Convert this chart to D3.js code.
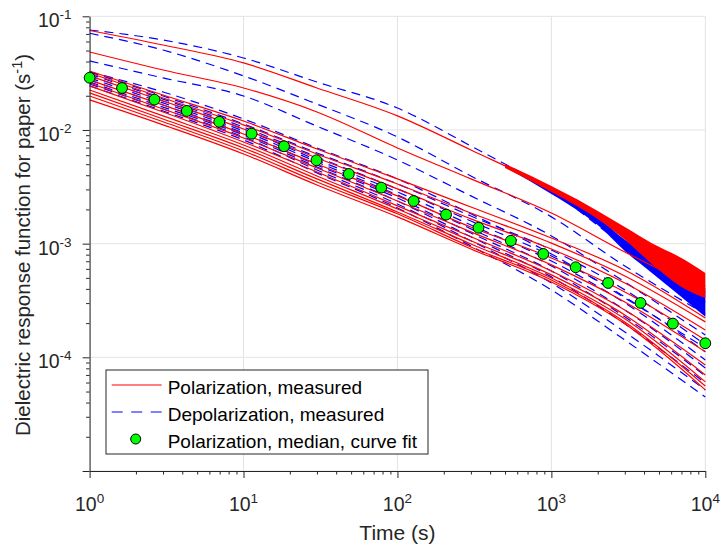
<!DOCTYPE html>
<html>
<head>
<meta charset="utf-8">
<script src="https://cdn.jsdelivr.net/npm/d3@7"></script>
<style>
  body { margin: 0; background: #fff; }
  svg { display: block; font-family: "Liberation Sans", Arial, Helvetica, sans-serif; }
</style>
</head>
<body>
<svg id="draw"></svg>
<script>
// sample times (s) shared by every measured curve
var times = [1, 3, 10, 30, 100, 300, 1000, 3000, 10000];

// polarization, measured (s^-1), one row per sample
var polarization = [
  [7.50e-2, 5.59e-2, 3.89e-2, 2.34e-2, 1.33e-2, 6.67e-3, 3.03e-3, 1.22e-3, 4.25e-4],
  [4.85e-2, 3.37e-2, 2.34e-2, 1.44e-2, 6.95e-3, 3.71e-3, 1.86e-3, 8.45e-4, 3.76e-4],
  [3.30e-2, 2.03e-2, 1.20e-2, 6.81e-3, 3.71e-3, 2.10e-3, 1.12e-3, 5.87e-4, 2.22e-4],
  [3.17e-2, 1.91e-2, 1.11e-2, 6.15e-3, 3.35e-3, 1.86e-3, 1.01e-3, 5.20e-4, 2.05e-4],
  [2.99e-2, 1.80e-2, 1.02e-2, 5.67e-3, 3.03e-3, 1.65e-3, 8.98e-4, 4.51e-4, 1.74e-4],
  [2.75e-2, 1.66e-2, 9.22e-3, 5.02e-3, 2.63e-3, 1.40e-3, 7.48e-4, 3.76e-4, 1.42e-4],
  [2.59e-2, 1.53e-2, 8.50e-3, 4.63e-3, 2.37e-3, 1.27e-3, 6.50e-4, 3.07e-4, 1.12e-4],
  [2.44e-2, 1.44e-2, 7.84e-3, 4.27e-3, 2.15e-3, 1.15e-3, 5.75e-4, 2.61e-4, 8.57e-5],
  [2.25e-2, 1.33e-2, 7.38e-3, 3.94e-3, 2.02e-3, 1.06e-3, 5.31e-4, 2.36e-4, 7.00e-5],
  [2.12e-2, 1.25e-2, 6.95e-3, 3.71e-3, 1.90e-3, 9.94e-4, 4.99e-4, 2.18e-4, 6.08e-5],
  [1.99e-2, 1.18e-2, 6.54e-3, 3.49e-3, 1.83e-3, 9.35e-4, 4.79e-4, 2.05e-4, 5.60e-5],
  [1.84e-2, 1.11e-2, 6.15e-3, 3.28e-3, 1.72e-3, 8.98e-4, 4.60e-4, 1.97e-4, 5.17e-5]
];

// depolarization, measured (s^-1)
var depolarization = [
  [7.58e-2, 6.19e-2, 4.30e-2, 2.64e-2, 1.56e-2, 7.23e-3, 2.91e-3, 9.55e-4, 3.07e-4],
  [7.09e-2, 5.05e-2, 2.99e-2, 1.69e-2, 8.68e-3, 3.94e-3, 1.72e-3, 6.37e-4, 2.41e-4],
  [4.05e-2, 2.87e-2, 1.99e-2, 1.08e-2, 5.45e-3, 2.63e-3, 1.17e-3, 4.60e-4, 1.57e-4],
  [3.24e-2, 2.16e-2, 1.25e-2, 6.95e-3, 3.71e-3, 1.83e-3, 8.12e-4, 3.33e-4, 1.21e-4],
  [3.24e-2, 1.99e-2, 1.13e-2, 6.28e-3, 3.35e-3, 1.75e-3, 8.80e-4, 3.92e-4, 1.29e-4],
  [3.11e-2, 1.87e-2, 1.06e-2, 5.79e-3, 3.03e-3, 1.58e-3, 7.79e-4, 3.40e-4, 1.12e-4],
  [2.99e-2, 1.80e-2, 1.02e-2, 5.45e-3, 2.85e-3, 1.46e-3, 7.04e-4, 3.01e-4, 9.49e-5],
  [2.87e-2, 1.73e-2, 9.80e-3, 5.23e-3, 2.68e-3, 1.35e-3, 6.37e-4, 2.61e-4, 8.07e-5],
  [2.75e-2, 1.66e-2, 9.41e-3, 4.92e-3, 2.52e-3, 1.24e-3, 5.75e-4, 2.27e-4, 6.86e-5],
  [2.64e-2, 1.59e-2, 9.04e-3, 4.73e-3, 2.37e-3, 1.15e-3, 5.10e-4, 1.97e-4, 5.95e-5],
  [2.54e-2, 1.53e-2, 8.68e-3, 4.45e-3, 2.23e-3, 1.06e-3, 4.51e-4, 1.67e-4, 5.17e-5],
  [2.44e-2, 1.47e-2, 8.17e-3, 4.19e-3, 2.06e-3, 9.55e-4, 3.92e-4, 1.42e-4, 4.48e-5]
];

// noisy tail of the two upper curves: envelope of the scatter
var noiseTimes = [500, 1000, 1500, 2000, 3000, 4500, 7000, 10000];
var polNoiseHigh = [5.02e-3, 3.22e-3, 2.42e-3, 1.94e-3, 1.40e-3, 1.01e-3, 7.48e-4, 5.52e-4];
var polNoiseLow  = [4.63e-3, 2.85e-3, 2.10e-3, 1.65e-3, 1.08e-3, 6.63e-4, 4.16e-4, 3.33e-4];
var depNoiseHigh = [5.02e-3, 3.03e-3, 2.19e-3, 1.72e-3, 1.08e-3, 7.79e-4, 5.52e-4, 4.08e-4];
var depNoiseLow  = [4.73e-3, 2.74e-3, 1.94e-3, 1.46e-3, 8.63e-4, 5.52e-4, 3.40e-4, 2.27e-4];

// polarization, median, curve fit
var fitTimes = [1, 1.624, 2.637, 4.281, 6.952, 11.29, 18.33, 29.76, 48.33, 78.48,
                127.4, 206.9, 336.0, 545.6, 885.9, 1438, 2336, 3793, 6158, 10000];
var fitValues = [2.88e-2, 2.34e-2, 1.85e-2, 1.47e-2, 1.18e-2, 9.28e-3, 7.19e-3, 5.41e-3, 4.10e-3, 3.11e-3,
                 2.37e-3, 1.80e-3, 1.38e-3, 1.06e-3, 8.12e-4, 6.20e-4, 4.51e-4, 3.01e-4, 1.98e-4, 1.33e-4];

var xTickExp = [0, 1, 2, 3, 4];
var yTickExp = [-1, -2, -3, -4];
var legendLabels = ["Polarization, measured", "Depolarization, measured", "Polarization, median, curve fit"];

var width = 721;
var height = 548;
var margin = {left: 89.6, right: 15.7, top: 16.3, bottom: 77};
var ink = "#262626";

var svg = d3.select("#draw")
  .attr("width", width)
  .attr("height", height);

var x = d3.scaleLog().domain([1, 1e4]).range([margin.left, width - margin.right]);
var y = d3.scaleLog().domain([1e-5, 1e-1]).range([height - margin.bottom, margin.top]);

function isMajor(d) {
  var l = Math.log10(d);
  return Math.abs(l - Math.round(l)) < 1e-9;
}

// grid (major decades only)
var grid = svg.append("g")
  .attr("stroke", "#e3e3e3")
  .attr("stroke-width", 1);

grid.selectAll(".gx")
  .data(x.ticks().filter(isMajor))
  .enter().append("line")
  .attr("x1", d => x(d)).attr("x2", d => x(d))
  .attr("y1", y.range()[0]).attr("y2", y.range()[1]);

grid.selectAll(".gy")
  .data(y.ticks().filter(isMajor))
  .enter().append("line")
  .attr("y1", d => y(d)).attr("y2", d => y(d))
  .attr("x1", x.range()[0]).attr("x2", x.range()[1]);

// curves
var line = d3.line()
  .x(d => x(d[0]))
  .y(d => y(d[1]))
  .curve(d3.curveMonotoneX);

var band = d3.area()
  .x(d => x(d[0]))
  .y0(d => y(d[1]))
  .y1(d => y(d[2]))
  .curve(d3.curveMonotoneX);

svg.append("g").selectAll("path")
  .data(depolarization)
  .enter().append("path")
  .attr("d", vals => line(d3.zip(times, vals)))
  .attr("fill", "none")
  .attr("stroke", "#0000ff")
  .attr("stroke-width", 1.2)
  .attr("stroke-dasharray", "9,6");

svg.append("path")
  .datum(d3.zip(noiseTimes, depNoiseLow, depNoiseHigh))
  .attr("d", band)
  .attr("fill", "#0000ff");

svg.append("g").selectAll("path")
  .data(polarization)
  .enter().append("path")
  .attr("d", vals => line(d3.zip(times, vals)))
  .attr("fill", "none")
  .attr("stroke", "#ff0000")
  .attr("stroke-width", 1.2);

svg.append("path")
  .datum(d3.zip(noiseTimes, polNoiseLow, polNoiseHigh))
  .attr("d", band)
  .attr("fill", "#ff0000");

// axes
var xAxis = svg.append("g")
  .attr("transform", "translate(0," + y.range()[0] + ")")
  .call(d3.axisBottom(x).tickValues(x.ticks()).tickFormat("").tickSizeOuter(0));
xAxis.selectAll(".tick line").attr("y2", d => isMajor(d) ? 7 : 3.5);

var yAxis = svg.append("g")
  .attr("transform", "translate(" + x.range()[0] + ",0)")
  .call(d3.axisLeft(y).tickValues(y.ticks()).tickFormat("").tickSizeOuter(0));
yAxis.selectAll(".tick line").attr("x2", d => isMajor(d) ? -7 : -3.5);

svg.selectAll(".domain, .tick line").attr("stroke", ink).attr("stroke-width", 1);

// markers on top of the axes
svg.append("g").selectAll("circle")
  .data(d3.zip(fitTimes, fitValues))
  .enter().append("circle")
  .attr("cx", d => x(d[0]))
  .attr("cy", d => y(d[1]))
  .attr("r", 5.4)
  .attr("fill", "#00ff00")
  .attr("stroke", "#000")
  .attr("stroke-width", 1);

// tick labels as 10^n
function powerLabel(sel) {
  sel.append("tspan").text("10");
  sel.append("tspan").attr("dy", -8).attr("font-size", 13.5).text(d => d);
}

svg.append("g").selectAll("text")
  .data(xTickExp)
  .enter().append("text")
  .attr("x", d => x(Math.pow(10, d)))
  .attr("y", y.range()[0] + 40)
  .attr("text-anchor", "middle")
  .attr("font-size", 19.5)
  .attr("fill", ink)
  .call(powerLabel);

svg.append("g").selectAll("text")
  .data(yTickExp)
  .enter().append("text")
  .attr("x", x.range()[0] - 18)
  .attr("y", d => y(Math.pow(10, d)) + 11)
  .attr("text-anchor", "end")
  .attr("font-size", 19.5)
  .attr("fill", ink)
  .call(powerLabel);

// axis titles
svg.append("text")
  .attr("x", (x.range()[0] + x.range()[1]) / 2)
  .attr("y", 540)
  .attr("text-anchor", "middle")
  .attr("font-size", 21)
  .attr("fill", ink)
  .text("Time (s)");

var yTitle = svg.append("text")
  .attr("transform", "translate(30,245) rotate(-90)")
  .attr("text-anchor", "middle")
  .attr("font-size", 20.5)
  .attr("fill", ink);
yTitle.append("tspan").text("Dielectric response function for paper (s");
yTitle.append("tspan").attr("dy", -8).attr("font-size", 14.5).text("-1");
yTitle.append("tspan").attr("dy", 8).text(")");

// legend
var legend = svg.append("g").attr("transform", "translate(106,370)");
legend.append("rect")
  .attr("width", 322).attr("height", 84)
  .attr("fill", "#fff")
  .attr("stroke", ink)
  .attr("stroke-width", 1);

var rows = legend.selectAll(".row")
  .data(legendLabels)
  .enter().append("g")
  .attr("transform", (d, i) => "translate(0," + (15 + i * 27) + ")");

rows.append("text")
  .attr("x", 61.7)
  .attr("y", 9)
  .attr("font-size", 19)
  .attr("fill", "#000")
  .text(d => d);

rows.filter((d, i) => i === 0).append("line")
  .attr("x1", 5.7).attr("x2", 55.7)
  .attr("stroke", "#ff0000").attr("stroke-width", 1.2);
rows.filter((d, i) => i === 1).append("line")
  .attr("x1", 5.7).attr("x2", 55.7)
  .attr("stroke", "#0000ff").attr("stroke-width", 1.2)
  .attr("stroke-dasharray", "11,8.5");
rows.filter((d, i) => i === 2).append("circle")
  .attr("cx", 29.7).attr("r", 5)
  .attr("fill", "#00ff00").attr("stroke", "#000").attr("stroke-width", 1);
</script>
</body>
</html>
